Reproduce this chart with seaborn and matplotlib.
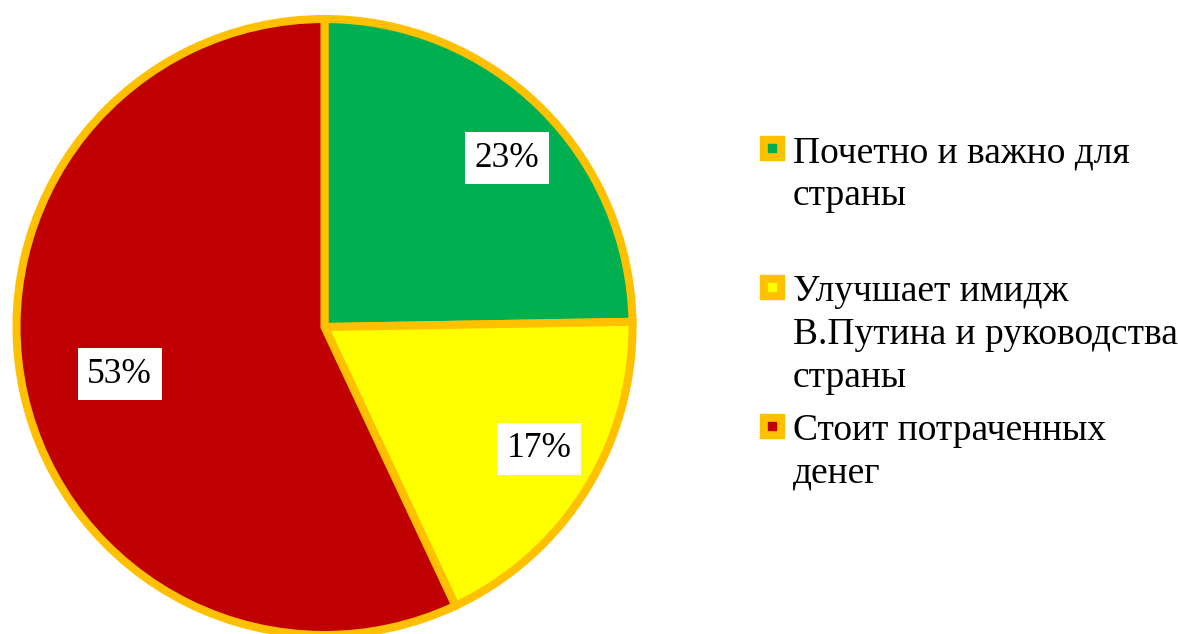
import matplotlib
matplotlib.use("Agg")
import numpy as np
import matplotlib.pyplot as plt
import seaborn as sns
from matplotlib.lines import Line2D

sns.set_style("white")
plt.rcParams['font.family'] = ['Liberation Serif', 'DejaVu Serif']
plt.rcParams['text.color'] = 'black'

# data
categories = ['Почетно и важно для\nстраны',
              'Улучшает имидж\nВ.Путина и руководства\nстраны',
              'Стоит потраченных\nденег']
values = [23, 17, 53]
colors = ['#00B050', '#FFFF00', '#C00000']
edge = '#FFC000'

W, H = 1178, 634
fig = plt.figure(figsize=(W / 100, H / 100), dpi=100)
ax = fig.add_axes([16.5 / W, -1 / H, 616 / W, 616 / H])

wedges, texts, autotexts = ax.pie(values, colors=colors, startangle=90, counterclock=False,
                                  autopct='%1.0f%%', pctdistance=0.78,
                                  wedgeprops=dict(edgecolor=edge, linewidth=5.8),
                                  textprops=dict(fontsize=25.5, color='black'))
ax.set_xlim(-1, 1)
ax.set_ylim(-1, 1)
ax.set_aspect('equal')
for w in wedges:
    w.set_clip_on(False)

# label placement tweaks (distance from centre, angle shift in degrees)
dists = [0.807, 0.802, 0.683]
shifts = [-2.7, 2.4, 0.4]
for t, w, d, s, v in zip(autotexts, wedges, dists, shifts, values):
    ang = np.deg2rad((w.theta1 + w.theta2) / 2 + s)
    t.set_position((d * np.cos(ang), d * np.sin(ang)))
    t.set_text(f'{v}%')
    t.set_bbox(dict(facecolor='white', edgecolor='none', boxstyle='square,pad=0.27'))

# legend drawn by hand so the marker sits on the first line
for i, (lab, c) in enumerate(zip(categories, colors)):
    base = 162 + 139 * i
    mark = 148 + 139 * i
    fig.add_artist(Line2D([772 / W], [1 - mark / H], marker='s', markersize=17,
                          markerfacecolor=edge, markeredgecolor=edge, transform=fig.transFigure))
    fig.add_artist(Line2D([772 / W], [1 - mark / H], marker='s', markersize=5.5,
                          markerfacecolor=c, markeredgecolor=c, transform=fig.transFigure))
    for j, line in enumerate(lab.split('\n')):
        fig.text(793 / W, 1 - (base + 43 * j) / H, line, fontsize=27,
                 ha='left', va='baseline', color='black')

fig.savefig('out.png', dpi=100)
